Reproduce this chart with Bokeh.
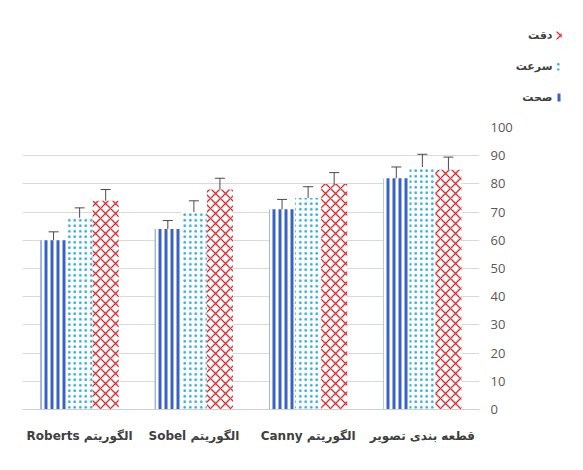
from bokeh.plotting import figure
from bokeh.layouts import column, row
from bokeh.models import (ColumnDataSource, FactorRange, Whisker, TeeHead, Legend,
                          LegendItem, Label, Spacer)
from bokeh.core.properties import value
from bokeh.transform import dodge
from bokeh.embed import file_html
from bokeh.resources import INLINE

categories = ["قطعه بندی تصویر", "الگوریتم Canny", "الگوریتم Sobel", "الگوریتم Roberts"]
series_names = ["صحت", "سرعت", "دقت"]
sehat = [82, 71, 64, 60]
sorat = [86, 75, 70, 68]
deghat = [85, 80, 78, 74]
err_sehat = [4.0, 3.5, 3.0, 3.0]
err_sorat = [4.5, 4.0, 4.0, 3.5]
err_deghat = [4.5, 4.0, 4.0, 4.0]
y_ticks = [0, 10, 20, 30, 40, 50, 60, 70, 80, 90, 100]

RLE, PDF = "\u202b", "\u202c"   # right-to-left embedding for mixed Persian/Latin labels
display_cats = [RLE + c + PDF for c in categories]

data = dict(cat=display_cats, s1=sehat, s2=sorat, s3=deghat)
for key, vals, errs in (("s1", sehat, err_sehat), ("s2", sorat, err_sorat), ("s3", deghat, err_deghat)):
    data[key + "_up"] = [v + e for v, e in zip(vals, errs)]
    data[key + "_lo"] = [v - e for v, e in zip(vals, errs)]
src = ColumnDataSource(data)

W = 583
TOP_H = 118
CHART_H = 352
LG_W = 70

# Excel RTL chart: categories reversed, value axis on the right
x_range = FactorRange(factors=list(reversed(display_cats)), range_padding=0)

p = figure(x_range=x_range, y_range=(0, 100), width=W, height=CHART_H,
           output_backend="svg", toolbar_location=None, y_axis_location="right",
           min_border_left=22, min_border_right=104, min_border_top=9,
           min_border_bottom=61)
p.outline_line_color = None
p.background_fill_color = "white"
p.border_fill_color = "white"

bw = 0.228
styles = [
    dict(hatch_pattern="vertical_line", hatch_color="#3A62C2", hatch_scale=6, hatch_weight=3),
    dict(hatch_pattern="dot", hatch_color="#2FAADC", hatch_scale=5.5, hatch_weight=4),
    dict(hatch_pattern="diagonal_cross", hatch_color="#E8262A", hatch_scale=10, hatch_weight=1.3),
]
offsets = [-bw, 0, bw]
for key, off, st in zip(["s1", "s2", "s3"], offsets, styles):
    p.vbar(x=dodge("cat", off, range=p.x_range), top=key, width=bw, source=src,
           fill_color="white", line_color=None, **st)
    w = Whisker(base=dodge("cat", off, range=p.x_range), upper=key + "_up", lower=key + "_lo",
                source=src, line_color="#4a4a4a", line_width=1,
                upper_head=TeeHead(size=10, line_color="#4a4a4a", line_width=1),
                lower_head=TeeHead(size=10, line_color="#4a4a4a", line_width=1))
    p.add_layout(w)

# axes
p.yaxis.ticker = y_ticks
p.yaxis.axis_line_color = None
p.yaxis.major_tick_line_color = None
p.yaxis.minor_tick_line_color = None
p.yaxis.major_label_standoff = 5
p.yaxis.major_label_text_font = "Open Sans"
p.yaxis.major_label_text_font_size = "13px"
p.yaxis.major_label_text_color = "#595959"

p.xaxis.axis_line_color = "#D0D0D0"
p.xaxis.major_tick_line_color = None
p.xaxis.minor_tick_line_color = None
p.xaxis.major_label_standoff = 13
p.xaxis.major_label_text_font = "DejaVu Sans"
p.xaxis.major_label_text_font_size = "12px"
p.xaxis.major_label_text_font_style = "bold"
p.xaxis.major_label_text_color = "#404040"

p.xgrid.grid_line_color = None
p.ygrid.grid_line_color = "#D9D9D9"
p.ygrid.ticker = y_ticks

# legend block at the top right (RTL: swatch to the right of its label)
lg = figure(x_range=(0, LG_W), y_range=(0, TOP_H), width=LG_W, height=TOP_H,
            output_backend="svg", toolbar_location=None,
            min_border_left=0, min_border_right=0, min_border_top=0, min_border_bottom=0)
lg.axis.visible = False
lg.grid.visible = False
lg.outline_line_color = None
# legend-only proxy glyphs (zero height, outside the visible range)
proxy = ColumnDataSource(dict(x=[-10], top=[0]))
swatches = [lg.vbar(x="x", top="top", width=1, source=proxy, fill_color="white",
                    line_color=None, **st) for st in styles]
order = [2, 1, 0]
legend = Legend(items=[LegendItem(label=value(""), renderers=[swatches[i]]) for i in order],
                location=(42, 16), orientation="vertical", glyph_width=7, glyph_height=10,
                spacing=21, padding=0, margin=0, label_width=0, label_standoff=0,
                label_text_font_size="1px", border_line_color=None,
                background_fill_alpha=0)
lg.add_layout(legend, "center")
for i, yy in zip(order, [83, 52, 21]):
    lg.add_layout(Label(x=39, y=yy, text=series_names[i], text_align="right",
                        text_baseline="middle", text_font="DejaVu Sans",
                        text_font_size="11px", text_font_style="bold",
                        text_color="#404040"))

top = row(Spacer(width=W - LG_W, height=TOP_H), lg, spacing=0)
layout = column(top, p, spacing=0)
open("out.html", "w").write(file_html(layout, INLINE))
